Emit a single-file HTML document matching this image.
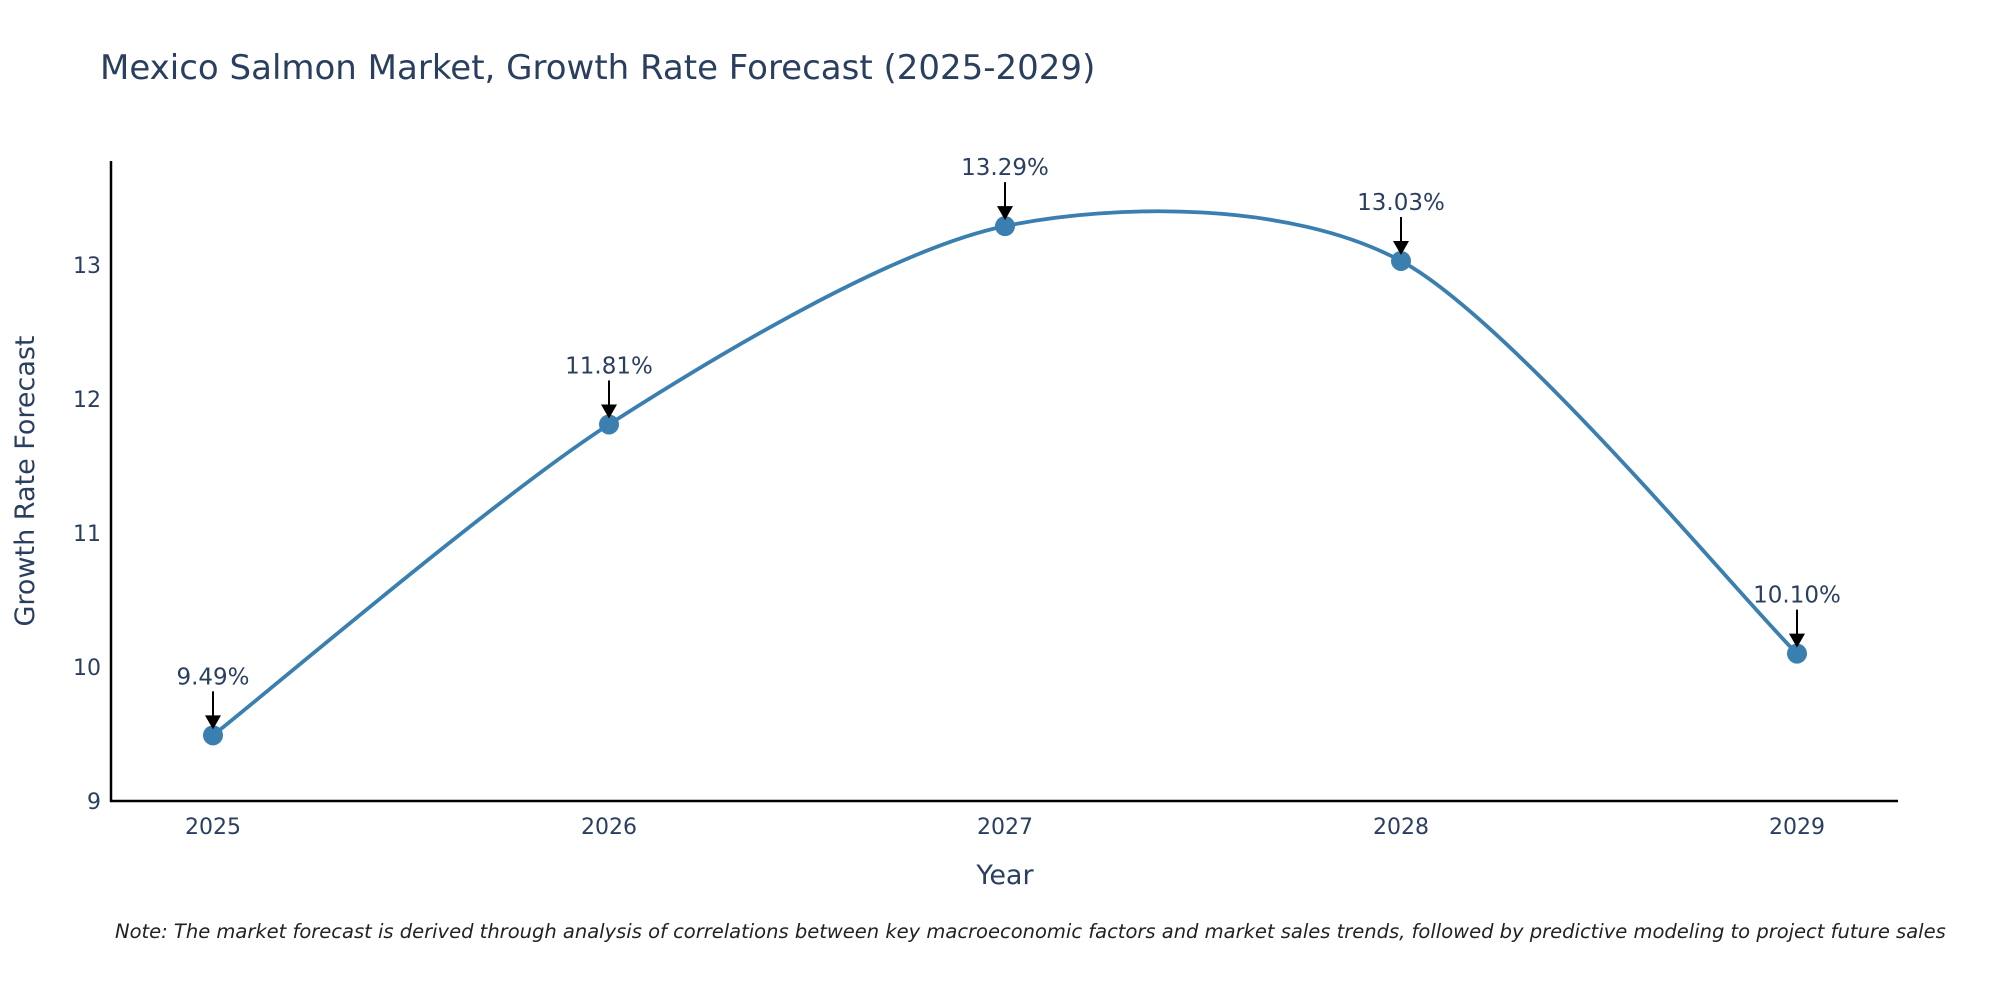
<!DOCTYPE html>
<html><head><meta charset="utf-8"><style>
body{margin:0;background:#fff;}
svg text{font-family:"DejaVu Sans","Liberation Sans",sans-serif;}
</style></head><body>
<svg id="chart" width="2000" height="1000" viewBox="0 0 2000 1000" xmlns="http://www.w3.org/2000/svg">
<text x="100" y="79" font-size="34" fill="#2a3f5f">Mexico Salmon Market, Growth Rate Forecast (2025-2029)</text>
<g id="axes"></g>
<g id="marks"></g>
<text x="1005" y="884" font-size="27" fill="#2a3f5f" text-anchor="middle">Year</text>
<text transform="translate(34,481) rotate(-90)" font-size="27" fill="#2a3f5f" text-anchor="middle">Growth Rate Forecast</text>
<text x="115" y="938" font-size="19.5" font-style="italic" fill="#222">Note: The market forecast is derived through analysis of correlations between key macroeconomic factors and market sales trends, followed by predictive modeling to project future sales</text>
</svg>
<script>
const years = [2025, 2026, 2027, 2028, 2029];
const growth = [9.49, 11.81, 13.29, 13.03, 10.10];
const labels = ["9.49%", "11.81%", "13.29%", "13.03%", "10.10%"];
const yTicks = [9, 10, 11, 12, 13];

const NS = "http://www.w3.org/2000/svg";
const x0 = 213, x1 = 1797, yBase = 801, yUnit = 134;
const xs = v => x0 + (v - years[0]) * (x1 - x0) / (years[years.length-1] - years[0]);
const ys = v => yBase - (v - 9) * yUnit;
function mk(tag, attrs, parent){const e=document.createElementNS(NS,tag);for(const k in attrs)e.setAttribute(k,attrs[k]);parent.appendChild(e);return e;}
const axes = document.getElementById('axes'), marks = document.getElementById('marks');

const yl = mk('line',{x1:111,y1:161,x2:111,y2:802,stroke:'#000','stroke-width':2.5},axes);


const xl = mk('line',{x1:110,y1:801,x2:1898,y2:801,stroke:'#000','stroke-width':2.5},axes);



yTicks.forEach(t=>{
  const e = mk('text',{x:101,y:ys(t)+8,'font-size':22,fill:'#2a3f5f','text-anchor':'end'},axes);
  e.textContent = t;
  
  
});
years.forEach(yv=>{
  const e = mk('text',{x:xs(yv),y:834,'font-size':22,fill:'#2a3f5f','text-anchor':'middle'},axes);
  e.textContent = yv;
  
  
});

const pts = years.map((yv,i)=>[xs(yv), ys(growth[i])]);
let d = `M${pts[0][0]},${pts[0][1]}`;
const s = 0.14;
for(let i=0;i<pts.length-1;i++){
  const p0 = pts[i-1]||pts[i], p1=pts[i], p2=pts[i+1], p3=pts[i+2]||pts[i+1];
  const c1=[p1[0]+(p2[0]-p0[0])*s, p1[1]+(p2[1]-p0[1])*s];
  const c2=[p2[0]-(p3[0]-p1[0])*s, p2[1]-(p3[1]-p1[1])*s];
  d += ` C${c1[0]},${c1[1]} ${c2[0]},${c2[1]} ${p2[0]},${p2[1]}`;
}
const line = mk('path',{d:d,fill:'none',stroke:'#3a7fb0','stroke-width':3.8},marks);



pts.forEach((p,i)=>{
  const c = mk('circle',{cx:p[0],cy:p[1],r:10,fill:'#3a7fb0'},marks);
  
  
  const a = mk('line',{x1:p[0],y1:p[1]-44,x2:p[0],y2:p[1]-14,stroke:'#000','stroke-width':2},marks);
  
  
  const h = mk('polygon',{points:`${p[0]-8},${p[1]-20} ${p[0]+8},${p[1]-20} ${p[0]},${p[1]-6}`,fill:'#000'},marks);
  
  
  const t = mk('text',{x:p[0],y:p[1]-51,'font-size':23,fill:'#2a3f5f','text-anchor':'middle'},marks);
  t.textContent = labels[i];
  
  
});
</script>
</body></html>
